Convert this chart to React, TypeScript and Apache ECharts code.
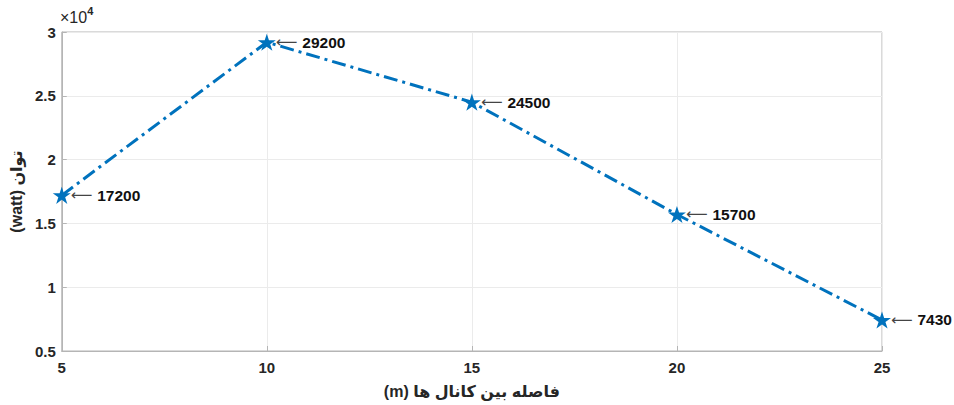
import React, { useEffect, useRef } from "react";
import * as echarts from "echarts";

const distances = [5, 10, 15, 20, 25];
const power = [17200, 29200, 24500, 15700, 7430];
const xTicks = [5, 10, 15, 20, 25];
const yTicks = [5000, 10000, 15000, 20000, 25000, 30000];
const xName = "(m) فاصله بین کانال ها";
const yName = "(watt) توان";

const STAR =
  "path://M100,0 L122.5,69.1 L195.1,69.1 L136.3,111.8 L158.8,180.9 L100,138.2 L41.2,180.9 L63.7,111.8 L4.9,69.1 L77.5,69.1 Z";

const FONT = "'Liberation Sans', Arial, 'DejaVu Sans', sans-serif";

export default function App() {
  const ref = useRef<HTMLDivElement>(null);
  useEffect(() => {
    if (!ref.current) return;
    const chart = echarts.init(ref.current, undefined, { renderer: "svg" });
    chart.setOption({
      animation: false,
      backgroundColor: "#ffffff",
      textStyle: { fontFamily: FONT },
      grid: {
        left: 58,
        right: 72,
        top: 32,
        bottom: 54,
        show: true,
        borderColor: "#b5b5b5",
        borderWidth: 1,
      },
      graphic: [
        {
          type: "text",
          left: 60,
          top: 5,
          style: {
            text: "{a|×10}{b|4}",
            rich: {
              a: { fontSize: 16, fill: "#262626", fontFamily: FONT, padding: [7, 0, 0, 0] },
              b: { fontSize: 11, fill: "#262626", fontFamily: FONT, fontWeight: "bold", padding: [0, 0, 7, 0] },
            },
          },
        },
      ],
      xAxis: {
        type: "value",
        min: 5,
        max: 25,
        interval: 5,
        name: xName,
        nameLocation: "middle",
        nameGap: 32,
        nameTextStyle: { fontSize: 16, fontWeight: "bold", color: "#262626", fontFamily: FONT },
        axisLine: { show: true, lineStyle: { color: "#b5b5b5" } },
        axisTick: { show: true, inside: true, length: 5, lineStyle: { color: "#b5b5b5" } },
        axisLabel: {
          fontSize: 15,
          fontWeight: "bold",
          color: "#262626",
          margin: 9,
          formatter: (v: number) => (xTicks.includes(v) ? String(v) : ""),
        },
        splitLine: { show: true, lineStyle: { color: "#ebebeb" } },
      },
      yAxis: {
        type: "value",
        min: 5000,
        max: 30000,
        interval: 5000,
        name: yName,
        nameLocation: "middle",
        nameGap: 33,
        nameRotate: 90,
        nameTextStyle: { fontSize: 16, fontWeight: "bold", color: "#262626", fontFamily: FONT },
        axisLine: { show: true, lineStyle: { color: "#b5b5b5" } },
        axisTick: { show: true, inside: true, length: 5, lineStyle: { color: "#b5b5b5" } },
        axisLabel: {
          fontSize: 15,
          fontWeight: "bold",
          color: "#262626",
          margin: 6,
          formatter: (v: number) => (yTicks.includes(v) ? String(v / 10000) : ""),
        },
        splitLine: { show: true, lineStyle: { color: "#ebebeb" } },
      },
      series: [
        {
          type: "line",
          data: distances.map((d, i) => [d, power[i]]),
          symbol: STAR,
          symbolSize: 18,
          symbolKeepAspect: true,
          itemStyle: { color: "#0072BD" },
          lineStyle: { color: "#0072BD", width: 3, type: [14, 5, 3, 5] },
          label: {
            show: true,
            position: "right",
            distance: 0,
            formatter: (p: any) => "{arr|⟵}{num|" + p.value[1] + "}",
            rich: {
              arr: { fontSize: 15, color: "#444", fontFamily: "'DejaVu Sans', sans-serif", padding: [0, 5, 0, 0] },
              num: { fontSize: 15.5, fontWeight: "bold", color: "#111", fontFamily: FONT },
            },
          },
          z: 3,
        },
      ],
    });
    return () => chart.dispose();
  }, []);
  return (
    <div
      ref={ref}
      style={{ position: "fixed", left: 0, top: 0, width: 954, height: 405 }}
    />
  );
}
